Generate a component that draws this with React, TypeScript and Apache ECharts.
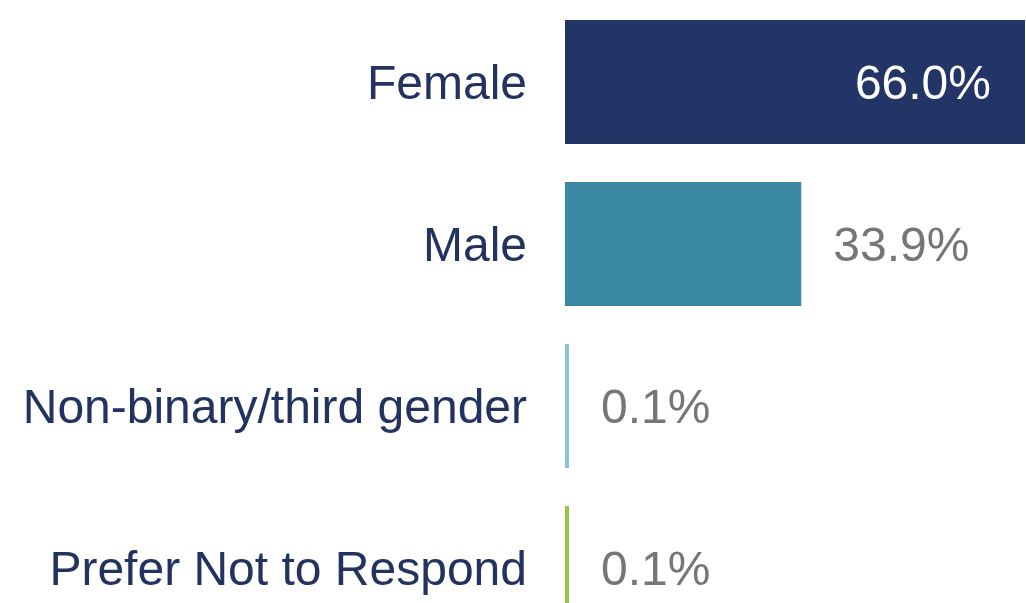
import React, { useEffect, useRef } from "react";
import * as echarts from "echarts";

const categories = ["Female", "Male", "Non-binary/third gender", "Prefer Not to Respond"];
const values = [66.0, 33.9, 0.1, 0.1];
const barColors = ["#233466", "#3b88a5", "#8fc0dc", "#98c34b"];

export default function App() {
  const ref = useRef<HTMLDivElement>(null);
  useEffect(() => {
    const chart = echarts.init(ref.current!, null, { renderer: "svg" });
    chart.setOption({
      animation: false,
      grid: {
        left: 565,
        top: 1,
        width: 460,
        height: 648,
        containLabel: false,
        outerBoundsMode: "none",
      },
      xAxis: { type: "value", min: 0, max: 66, show: false },
      yAxis: {
        type: "category",
        data: categories,
        inverse: true,
        axisLine: { show: false },
        axisTick: { show: false },
        axisLabel: {
          margin: 38,
          fontSize: 48,
          color: "#22335f",
          fontFamily: "Liberation Sans, Arial, sans-serif",
        },
      },
      series: [
        {
          type: "bar",
          barWidth: 124,
          barMinHeight: 4,
          data: values.map((v, i) => ({
            value: v,
            itemStyle: { color: barColors[i] },
            label:
              i === 0
                ? { position: "insideRight", distance: 34, color: "#ffffff" }
                : { position: "right", distance: 32, color: "#767676" },
          })),
          label: {
            show: true,
            fontSize: 48,
            fontFamily: "Liberation Sans, Arial, sans-serif",
            formatter: (p: any) => p.value.toFixed(1) + "%",
          },
        },
      ],
    });
    return () => chart.dispose();
  }, []);
  return (
    <div
      ref={ref}
      style={{ position: "fixed", left: 0, top: 0, width: 1026, height: 603 }}
    />
  );
}
